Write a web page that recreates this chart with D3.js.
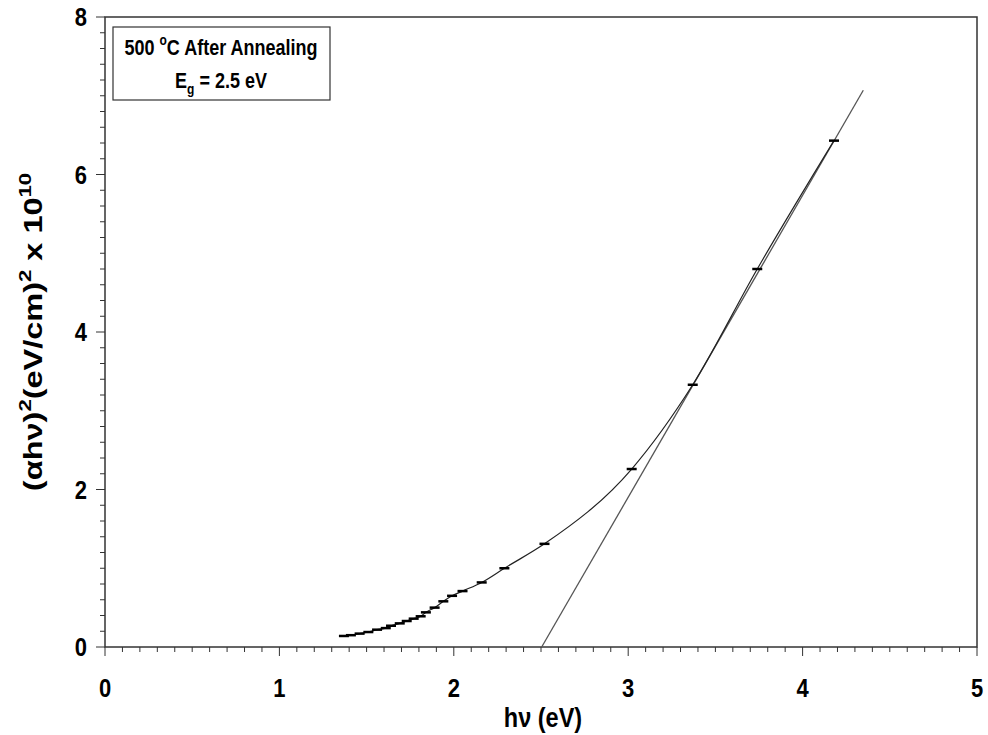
<!DOCTYPE html>
<html>
<head>
<meta charset="utf-8">
<script src="https://cdn.jsdelivr.net/npm/d3@7"></script>
<style>
  body { margin: 0; background: #fff; }
  svg { display: block; font-family: 'Liberation Sans', Arial, sans-serif; }
</style>
</head>
<body>
<script>
const width = 988
const height = 735
const margin = { top: 17, right: 11, bottom: 88, left: 105 }

// measured points, photon energy (eV) vs (alpha h nu)^2 in 1e10 units
const energy = [1.37, 1.41, 1.46, 1.51, 1.56, 1.61, 1.64, 1.69, 1.73, 1.77, 1.81, 1.84,
  1.89, 1.94, 1.99, 2.05, 2.16, 2.29, 2.52, 3.02, 3.37, 3.74, 4.18]
const absorb = [0.14, 0.15, 0.17, 0.19, 0.22, 0.24, 0.27, 0.30, 0.33, 0.36, 0.39, 0.44,
  0.50, 0.58, 0.65, 0.71, 0.82, 1.00, 1.31, 2.26, 3.33, 4.80, 6.43]

// linear extrapolation to the band gap
const fitX = [2.504, 4.348]
const fitY = [0, 7.07]

const xTicks = [0, 1, 2, 3, 4, 5]
const yTicks = [0, 2, 4, 6, 8]

const w = width - margin.left - margin.right
const h = height - margin.top - margin.bottom

const x = d3.scaleLinear().domain([0, 5]).range([0, w])
const y = d3.scaleLinear().domain([0, 8]).range([h, 0])

const data = energy.map((e, i) => ({ x: e, y: absorb[i] }))
const fit = fitX.map((e, i) => ({ x: e, y: fitY[i] }))

// the original picture is stretched vertically, so text is too
const stretch = 1.2

let svg = d3.select('body').append('svg')
  .attr('width', width)
  .attr('height', height)

let g = svg.append('g')
  .attr('transform', 'translate(' + [margin.left, margin.top] + ')')

// minor + major ticks
const xMinor = d3.range(0, 5.0001, 0.1)
const yMinor = d3.range(0, 8.0001, 0.2)

g.append('g').selectAll('line')
  .data(xMinor)
  .join('line')
    .attr('x1', (d) => x(d)).attr('x2', (d) => x(d))
    .attr('y1', h)
    .attr('y2', (d) => h + (Math.abs(d - Math.round(d)) < 1e-6 ? 9 : 5))
    .attr('stroke', '#333')
    .attr('stroke-width', 1)

g.append('g').selectAll('line')
  .data(yMinor)
  .join('line')
    .attr('y1', (d) => y(d)).attr('y2', (d) => y(d))
    .attr('x1', 0)
    .attr('x2', (d) => (Math.abs(d / 2 - Math.round(d / 2)) < 1e-6 ? -9 : -5))
    .attr('stroke', '#333')
    .attr('stroke-width', 1)

// frame
g.append('rect')
  .attr('width', w)
  .attr('height', h)
  .attr('fill', 'none')
  .attr('stroke', '#333')
  .attr('stroke-width', 1.5)

// tick labels
g.append('g')
  .attr('font-size', 22)
  .attr('font-weight', 'bold')
  .attr('text-anchor', 'middle')
  .selectAll('text')
  .data(xTicks)
  .join('text')
    .attr('transform', (d) => 'translate(' + [x(d), h + 50] + ')scale(1,' + stretch + ')')
    .text((d) => d)

g.append('g')
  .attr('font-size', 22)
  .attr('font-weight', 'bold')
  .attr('text-anchor', 'end')
  .selectAll('text')
  .data(yTicks)
  .join('text')
    .attr('transform', (d) => 'translate(' + [-18, y(d)] + ')scale(1,' + stretch + ')')
    .attr('dy', '0.35em')
    .text((d) => d)

// fitted line
let line = d3.line()
  .x((d) => x(d.x))
  .y((d) => y(d.y))

g.append('path')
  .attr('d', line(fit))
  .attr('fill', 'none')
  .attr('stroke', '#555')
  .attr('stroke-width', 1.3)

// data curve
g.append('path')
  .attr('d', line.curve(d3.curveMonotoneX)(data))
  .attr('fill', 'none')
  .attr('stroke', '#222')
  .attr('stroke-width', 1.2)

g.append('g').selectAll('line')
  .data(data)
  .join('line')
    .attr('x1', (d) => x(d.x) - 5)
    .attr('x2', (d) => x(d.x) + 5)
    .attr('y1', (d) => y(d.y))
    .attr('y2', (d) => y(d.y))
    .attr('stroke', '#000')
    .attr('stroke-width', 2.5)

// legend box
let legend = g.append('g')
  .attr('transform', 'translate(8,10)')
legend.append('rect')
  .attr('width', 217)
  .attr('height', 73)
  .attr('fill', '#fff')
  .attr('stroke', '#333')
  .attr('stroke-width', 1.2)

let t1 = legend.append('text')
  .attr('transform', 'translate(108,28)scale(1,' + stretch + ')')
  .attr('text-anchor', 'middle')
  .attr('font-size', 18)
  .attr('font-weight', 'bold')
t1.append('tspan').text('500 ')
t1.append('tspan').attr('font-size', 12).attr('dy', -8).text('o')
t1.append('tspan').attr('dy', 8).text('C After Annealing')

let t2 = legend.append('text')
  .attr('transform', 'translate(108,61)scale(1,' + stretch + ')')
  .attr('text-anchor', 'middle')
  .attr('font-size', 18)
  .attr('font-weight', 'bold')
t2.append('tspan').text('E')
t2.append('tspan').attr('font-size', 12).attr('dy', 5).text('g')
t2.append('tspan').attr('dy', -5).text(' = 2.5 eV')

// axis titles
g.append('text')
  .attr('transform', 'translate(' + [w / 2 + 2, h + 80] + ')scale(1,' + stretch + ')')
  .attr('text-anchor', 'middle')
  .attr('font-size', 23.5)
  .attr('font-weight', 'bold')
  .text('h\u03bd (eV)')

let yt = g.append('text')
  .attr('transform', 'translate(' + [-63, h / 2] + ')rotate(-90)scale(1.3,1)')
  .attr('text-anchor', 'middle')
  .attr('font-size', 25)
  .attr('font-weight', 'bold')
yt.append('tspan').text('(\u03b1h\u03bd)')
yt.append('tspan').attr('font-size', 17).attr('dy', -11).text('2')
yt.append('tspan').attr('dy', 11).text('(eV/cm)')
yt.append('tspan').attr('font-size', 17).attr('dy', -11).text('2')
yt.append('tspan').attr('dy', 11).text(' x 10')
yt.append('tspan').attr('font-size', 17).attr('dy', -11).text('10')
</script>
</body>
</html>
